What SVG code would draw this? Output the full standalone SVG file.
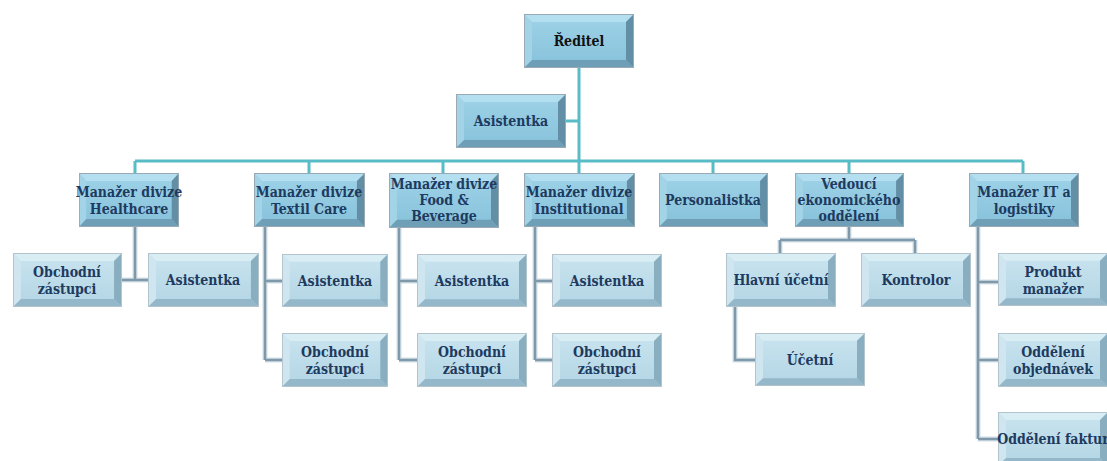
<svg xmlns="http://www.w3.org/2000/svg" width="1107" height="461" viewBox="0 0 1107 461">
<defs>
<linearGradient id="g1" x1="0" y1="0" x2="0" y2="1">
<stop offset="0" stop-color="#9fd3e8"/><stop offset="1" stop-color="#86c1da"/>
</linearGradient>
<linearGradient id="g2" x1="0" y1="0" x2="0" y2="1">
<stop offset="0" stop-color="#c9e4ef"/><stop offset="1" stop-color="#b3d5e4"/>
</linearGradient>
<symbol id="b1" viewBox="0 0 110 54" preserveAspectRatio="none">
<rect x="0" y="0" width="110" height="54" fill="url(#g1)"/>
<polygon points="0,0 110,0 102,8 8,8" fill="#b3dff0"/>
<polygon points="0,0 8,8 8,46 0,54" fill="#a3d3e7"/>
<polygon points="0,54 8,46 102,46 110,54" fill="#6f9fb7"/>
<polygon points="110,0 110,54 102,46 102,8" fill="#638fa6"/>
<rect x="0.5" y="0.5" width="109" height="53" fill="none" stroke="#9aaab4" stroke-width="1"/>
</symbol>
<symbol id="b2" viewBox="0 0 110 54" preserveAspectRatio="none">
<rect x="0" y="0" width="110" height="54" fill="url(#g2)"/>
<polygon points="0,0 110,0 102,8 8,8" fill="#d9edf5"/>
<polygon points="0,0 8,8 8,46 0,54" fill="#cfe6f0"/>
<polygon points="0,54 8,46 102,46 110,54" fill="#94b8c9"/>
<polygon points="110,0 110,54 102,46 102,8" fill="#88aec0"/>
<rect x="0.5" y="0.5" width="109" height="53" fill="none" stroke="#b4c4cc" stroke-width="1"/>
</symbol>
</defs>
<style>
text{font-family:"DejaVu Serif","Liberation Serif",serif;font-stretch:condensed;font-weight:bold;font-size:14px;fill:#1d3a60;text-anchor:middle}
.main{fill:none;stroke:#58bcc6;stroke-width:3}
.subo{fill:none;stroke:#d3e1e8;stroke-width:5}
.sub{fill:none;stroke:#7f99aa;stroke-width:2.5}
</style>
<rect width="1107" height="461" fill="#ffffff"/>
<g id="connectors">
<path class="main" d="M579,68V161M566,121H579M135,161H1023M135,161V173M309,161V173M443,161V173M579,161V173M713,161V173M849,161V173M1023,161V173"/>
<path class="subo" d="M135,227V280M122,280H148M265,227V360M265,281H282M265,360H282M399,228V360M399,281H417M399,360H417M535,227V360M535,281H552M535,360H552M849,227V240M780,240H915M780,240V253M915,240V253M735,307V360H755M978,227V439M978,282H998M978,360H998M978,439H998"/>
<path class="sub" d="M135,227V280M122,280H148M265,227V360M265,281H282M265,360H282M399,228V360M399,281H417M399,360H417M535,227V360M535,281H552M535,360H552M849,227V240M780,240H915M780,240V253M915,240V253M735,307V360H755M978,227V439M978,282H998M978,360H998M978,439H998"/>
</g>
<g id="n-reditel"><use href="#b1" x="524" y="14" width="110" height="54"/><text x="579" y="46" style="fill:#111">Ředitel</text></g>
<g id="n-asistentka"><use href="#b1" x="456" y="94" width="110" height="54"/><text x="511" y="126">Asistentka</text></g>
<g id="n-healthcare"><use href="#b1" x="79" y="173" width="100" height="54"/><text x="129" y="197">Manažer divize</text><text x="129" y="214">Healthcare</text></g>
<g id="n-textil"><use href="#b1" x="254" y="173" width="111" height="54"/><text x="309" y="197">Manažer divize</text><text x="309" y="214">Textil Care</text></g>
<g id="n-food"><use href="#b1" x="389" y="173" width="110" height="55"/><text x="444" y="189">Manažer divize</text><text x="444" y="205">Food &amp;</text><text x="444" y="221">Beverage</text></g>
<g id="n-institutional"><use href="#b1" x="524" y="173" width="111" height="54"/><text x="579" y="197">Manažer divize</text><text x="579" y="214">Institutional</text></g>
<g id="n-personalistka"><use href="#b1" x="659" y="173" width="109" height="54"/><text x="713" y="205">Personalistka</text></g>
<g id="n-vedouci"><use href="#b1" x="795" y="173" width="109" height="54"/><text x="849" y="189">Vedoucí</text><text x="849" y="205">ekonomického</text><text x="849" y="221">oddělení</text></g>
<g id="n-it"><use href="#b1" x="969" y="173" width="110" height="54"/><text x="1024" y="197">Manažer IT a</text><text x="1024" y="214">logistiky</text></g>
<g id="n-h-obchodni"><use href="#b2" x="13" y="253" width="109" height="54"/><text x="67" y="277">Obchodní</text><text x="67" y="294">zástupci</text></g>
<g id="n-h-asistentka"><use href="#b2" x="148" y="253" width="111" height="54"/><text x="203" y="285">Asistentka</text></g>
<g id="n-t-asistentka"><use href="#b2" x="282" y="254" width="106" height="53"/><text x="335" y="286">Asistentka</text></g>
<g id="n-t-obchodni"><use href="#b2" x="282" y="333" width="106" height="54"/><text x="335" y="357">Obchodní</text><text x="335" y="374">zástupci</text></g>
<g id="n-f-asistentka"><use href="#b2" x="417" y="254" width="110" height="53"/><text x="472" y="286">Asistentka</text></g>
<g id="n-f-obchodni"><use href="#b2" x="417" y="333" width="110" height="54"/><text x="472" y="357">Obchodní</text><text x="472" y="374">zástupci</text></g>
<g id="n-i-asistentka"><use href="#b2" x="552" y="254" width="110" height="53"/><text x="607" y="286">Asistentka</text></g>
<g id="n-i-obchodni"><use href="#b2" x="552" y="333" width="110" height="54"/><text x="607" y="357">Obchodní</text><text x="607" y="374">zástupci</text></g>
<g id="n-hlavni"><use href="#b2" x="726" y="253" width="110" height="54"/><text x="781" y="285">Hlavní účetní</text></g>
<g id="n-kontrolor"><use href="#b2" x="861" y="253" width="110" height="54"/><text x="916" y="285">Kontrolor</text></g>
<g id="n-ucetni"><use href="#b2" x="755" y="333" width="110" height="53"/><text x="810" y="365">Účetní</text></g>
<g id="n-produkt"><use href="#b2" x="998" y="253" width="110" height="53"/><text x="1053" y="277">Produkt</text><text x="1053" y="294">manažer</text></g>
<g id="n-objednavek"><use href="#b2" x="998" y="333" width="110" height="54"/><text x="1053" y="357">Oddělení</text><text x="1053" y="374">objednávek</text></g>
<g id="n-faktur"><use href="#b2" x="998" y="412" width="110" height="54"/><text x="1053" y="444">Oddělení faktur</text></g>
</svg>
